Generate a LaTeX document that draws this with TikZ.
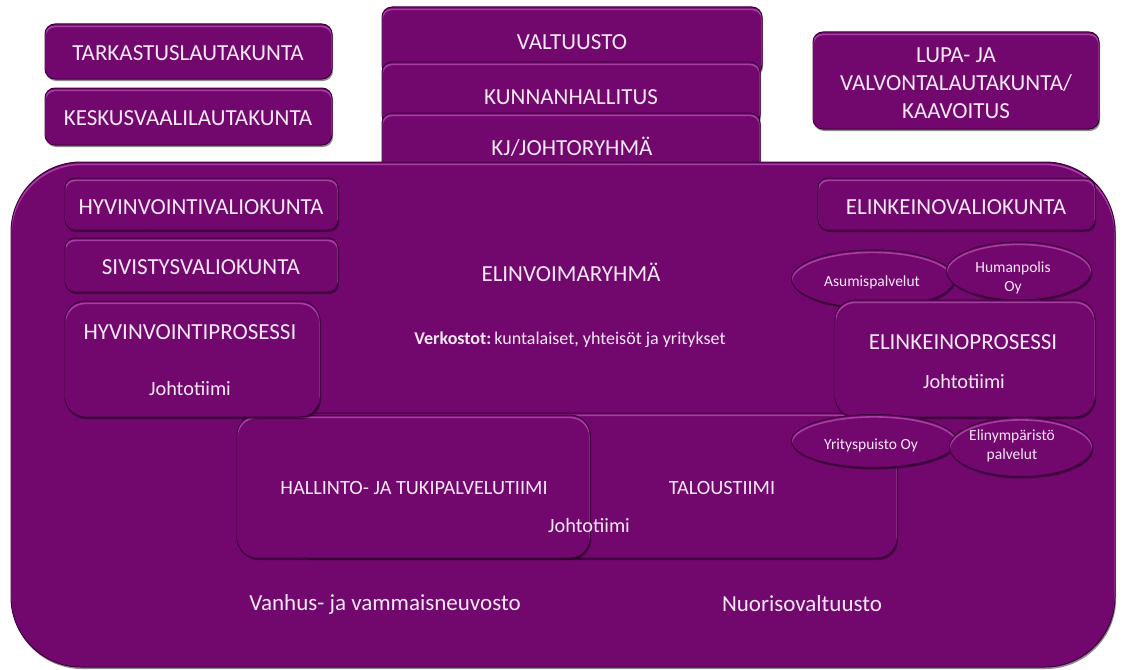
\documentclass[tikz,border=0pt]{standalone}
\usepackage{fontspec}
\setmainfont{Carlito}
\usetikzlibrary{shapes.geometric,shadows}
\definecolor{purp}{RGB}{114,8,110}
\definecolor{purpdark}{RGB}{62,0,60}
\definecolor{hlc}{RGB}{168,62,164}
\definecolor{txt}{RGB}{248,232,248}
\tikzset{
  shade3d/.style={drop shadow={shadow xshift=1pt, shadow yshift=-2pt, opacity=0.45, fill=black}},
  rhl/.style={path picture={\draw[hlc, line width=1.6pt, rounded corners=#1] ([yshift=-2.4pt]path picture bounding box.south west) rectangle ([yshift=-2.4pt]path picture bounding box.north east);}},
  box/.style={rectangle, draw=purpdark, line width=1pt, fill=purp, rounded corners=10pt, inner sep=0pt, shade3d, rhl=10pt},
  procbox/.style={rectangle, draw=purpdark, line width=1pt, fill=purp, rounded corners=20pt, inner sep=0pt, shade3d, rhl=20pt},
  oval/.style 2 args={ellipse, draw=purpdark, line width=1pt, fill=purp, inner sep=0pt, shade3d,
     minimum width=#1, minimum height=#2,
     path picture={\draw[hlc, line width=1.6pt] ([yshift=-2.4pt]path picture bounding box.center) ellipse [x radius=#1/2, y radius=#2/2];}},
  big/.style={rectangle, draw=purpdark, line width=1pt, fill=purp, rounded corners=70pt, inner sep=0pt, shade3d, rhl=70pt},
  lbl/.style={text=txt, font=\fontsize{23}{28}\selectfont, align=center, inner sep=0pt},
  lblm/.style={text=txt, font=\fontsize{20.3}{24}\selectfont, align=center, inner sep=0pt},
  lbls/.style={text=txt, font=\fontsize{15.5}{19.5}\selectfont, align=center, inner sep=0pt},
  lblv/.style={text=txt, font=\fontsize{18}{22}\selectfont, align=center, inner sep=0pt},
  lblb/.style={text=txt, font=\fontsize{23}{28}\selectfont, align=center, inner sep=0pt},
}
\begin{document}
\begin{tikzpicture}[x=1pt,y=-1pt]
\useasboundingbox (0,0) rectangle (1126,669);
% top stack
\node[box, minimum width=380, minimum height=68] (valtb) at (572,41) {};
\node[box, minimum width=378, minimum height=63] (kunnb) at (571,93.5) {};
\node[box, minimum width=378, minimum height=67] (kjb) at (571,146.5) {};
% left top boxes
\node[box, minimum width=287, minimum height=55] (tarkb) at (188.5,51.5) {};
\node[box, minimum width=287, minimum height=57] (keskb) at (188.5,116.5) {};
% right top box
\node[box, minimum width=286, minimum height=97] (lupab) at (956,80.5) {};
% big area
\node[big, minimum width=1104, minimum height=505] (bigb) at (563,414.5) {};
% lower teams
\node[procbox, minimum width=607, minimum height=145] (taloub) at (593.5,485.5) {};
\node[procbox, minimum width=353, minimum height=143] (hallb) at (413.5,486.5) {};
% processes
\node[procbox, minimum width=255, minimum height=116] (hyvprb) at (192.5,359) {};
\node[oval={163}{58}] (asum) at (873,279) {};
\node[oval={145}{58}] (human) at (1019,271) {};
\node[procbox, minimum width=260, minimum height=117] (elprb) at (965,358.5) {};
\node[oval={165}{53}] (yrit) at (874,441) {};
\node[oval={143}{59}] (elin) at (1021,447) {};
% committees
\node[box, minimum width=273, minimum height=52] (hyvvalb) at (201.5,204) {};
\node[box, minimum width=273, minimum height=54] (sivvalb) at (201.5,265) {};
\node[box, minimum width=277, minimum height=52] (elvalb) at (956.5,204) {};
% texts
\node[lbl] (tark) at (188,53) {TARKASTUSLAUTAKUNTA};
\node[lbl] (kesk) at (188,118) {KESKUSVAALILAUTAKUNTA};
\node[lbl] (valt) at (572,42) {VALTUUSTO};
\node[lbl] (kunn) at (571,97) {KUNNANHALLITUS};
\node[lbl] (kj) at (572,147) {KJ/JOHTORYHMÄ};
\node[lbl] (lupa) at (956,83) {LUPA- JA\\VALVONTALAUTAKUNTA/\\KAAVOITUS};
\node[lbl] (hyvval) at (201,207) {HYVINVOINTIVALIOKUNTA};
\node[lbl] (sivval) at (201,267) {SIVISTYSVALIOKUNTA};
\node[lbl] (hyvpr) at (190,332) {HYVINVOINTIPROSESSI};
\node[lblm] (hyvjt) at (190,389) {Johtotiimi};
\node[lblb] (elinv) at (571,272) {ELINVOIMARYHMÄ};
\node[lblv] (verk) at (570,340) {\textbf{Verkostot:}\,kuntalaiset, yhteisöt ja yritykset};
\node[lbl] (elval) at (956,207) {ELINKEINOVALIOKUNTA};
\node[lbls] (asumt) at (872,282) {Asumispalvelut};
\node[lbls] (humant) at (1013,278) {Humanpolis\\Oy};
\node[lbl] (elpr) at (963,342) {ELINKEINOPROSESSI};
\node[lblm] (eljt) at (964,382) {Johtotiimi};
\node[lbls] (yritt) at (871,445) {Yrityspuisto Oy};
\node[lbls] (elint) at (1012,446) {Elinympäristö\\palvelut};
\node[lblm] (hall) at (414,488) {HALLINTO- JA TUKIPALVELUTIIMI};
\node[lblm] (talou) at (722,488) {TALOUSTIIMI};
\node[lblm] (midjt) at (589,526) {Johtotiimi};
\node[lblb] (vanh) at (385,604) {Vanhus- ja vammaisneuvosto};
\node[lblb] (nuor) at (802,604) {Nuorisovaltuusto};
\end{tikzpicture}
\end{document}
